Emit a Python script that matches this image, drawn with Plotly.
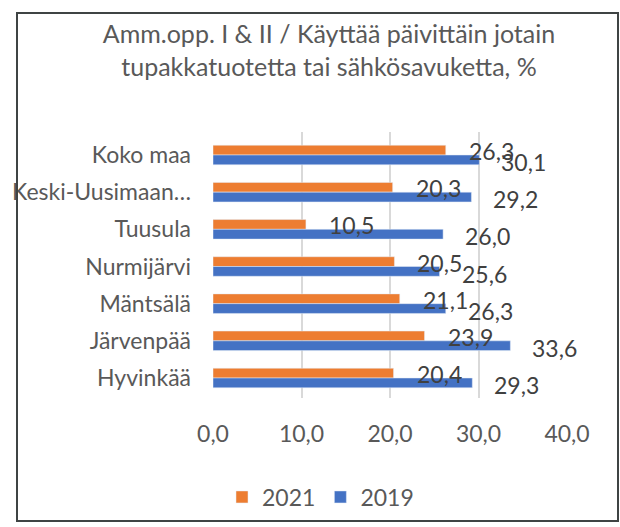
import plotly.graph_objects as go

categories = ["Koko maa", "Keski-Uusimaan…", "Tuusula", "Nurmijärvi", "Mäntsälä", "Järvenpää", "Hyvinkää"]
values_2021 = [26.3, 20.3, 10.5, 20.5, 21.1, 23.9, 20.4]
values_2019 = [30.1, 29.2, 26.0, 25.6, 26.3, 33.6, 29.3]
tick_values = [0, 10, 20, 30, 40]

ORANGE = "#ED7D31"
BLUE = "#4472C4"
FONT = "Lato"
GREY = "#595959"
FS = 23

fig = go.Figure()
fig.add_trace(go.Bar(name="2021", y=categories, x=values_2021, orientation="h",
                     marker=dict(color=ORANGE)))
fig.add_trace(go.Bar(name="2019", y=categories, x=values_2019, orientation="h",
                     marker=dict(color=BLUE)))

annotations = []
for c, v in zip(categories, values_2021):
    annotations.append(dict(x=v, y=c, xref="x", yref="y", text=f"{v:.1f}".replace(".", ","),
                            showarrow=False, xanchor="left", yanchor="middle", xshift=21, yshift=4,
                            font=dict(family=FONT, size=FS, color="#404040")))
for c, v in zip(categories, values_2019):
    annotations.append(dict(x=v, y=c, xref="x", yref="y", text=f"{v:.1f}".replace(".", ","),
                            showarrow=False, xanchor="left", yanchor="middle", xshift=20, yshift=-7,
                            font=dict(family=FONT, size=FS, color="#404040")))

PL, PR, PT, PB = 213, 567, 132, 398
W = PR - PL
H = PB - PT
def px_x(p):
    return (p - PL) / W
def px_y(p):
    return (PB - p) / H

fig.update_layout(
    width=620, height=527,
    margin=dict(l=PL, r=620 - PR, t=PT, b=527 - PB, autoexpand=False),
    paper_bgcolor="white", plot_bgcolor="white",
    separators=", ",
    barmode="group", bargap=0.474, bargroupgap=0,
    font=dict(family=FONT, size=FS, color=GREY),
    title=dict(text="Amm.opp. I & II / Käyttää päivittäin jotain<br>tupakkatuotetta tai sähkösavuketta, %",
               x=329 / 620, xanchor="center", xref="container",
               y=(527 - 43) / 527, yanchor="top", yref="container",
               font=dict(family=FONT, size=25, color=GREY)),
    xaxis=dict(range=[0, 40], tickvals=tick_values, tickformat=".1f",
               showgrid=True, gridcolor="#D9D9D9", gridwidth=1.5, zeroline=False,
               showline=False, ticks="", ticklabelstandoff=20, automargin=False,
               tickfont=dict(family=FONT, size=FS, color=GREY), fixedrange=True),
    yaxis=dict(autorange="reversed", showgrid=False, zeroline=False, showline=False,
               ticks="", ticklabelstandoff=21, automargin=False,
               tickfont=dict(family=FONT, size=FS, color=GREY)),
    legend=dict(orientation="h", xref="container", yref="container",
                x=222 / 620, xanchor="left", y=(527 - 497) / 527, yanchor="middle",
                itemwidth=30,
                font=dict(family=FONT, size=FS, color=GREY), traceorder="normal"),
    annotations=annotations,
    showlegend=True,
)

fig.add_shape(type="rect", xref="paper", yref="paper",
              x0=px_x(17), x1=px_x(618), y0=px_y(521), y1=px_y(13),
              line=dict(color="#3F4444", width=2), fillcolor="rgba(0,0,0,0)", layer="above")

fig.write_html("out.html", config={"displayModeBar": False},
               post_script="document.body.style.margin='0';")
